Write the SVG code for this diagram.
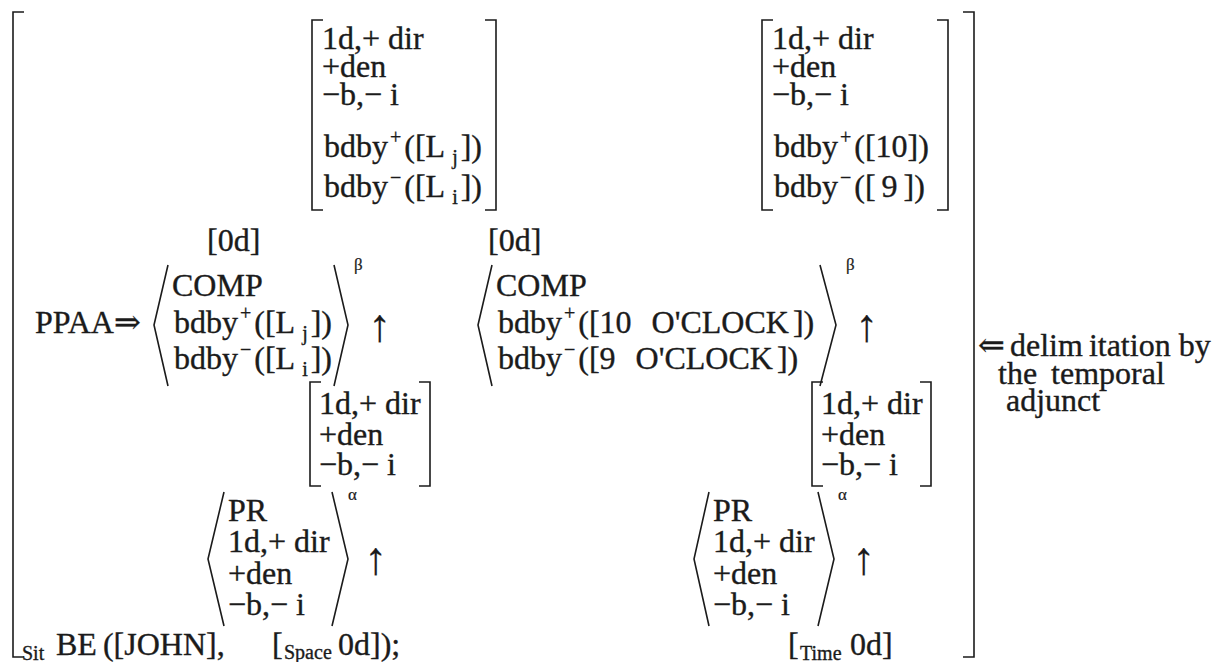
<svg xmlns="http://www.w3.org/2000/svg" width="1227" height="662" viewBox="0 0 1227 662" font-family="Liberation Serif, serif">
  <style>
    text { font-family: "Liberation Serif", "Times New Roman", "DejaVu Serif", serif; font-size: 32px; fill: #1b1b1b; stroke: #1b1b1b; stroke-width: 0.35; }
    .s { font-size: 20px; }
    .g { font-size: 17px; stroke-width: 0.2; }
    .ar { font-size: 46px; stroke-width: 0.2; }
    .br { fill: none; stroke: #1b1b1b; stroke-width: 1.6; }
  </style>
  <rect width="1227" height="662" fill="#fff"/>

  <!-- outer situation bracket -->
  <g id="situation">
    <path class="br" d="M24 12H13V657H24M963 12H974V657H963"/>
    <text class="s" x="22" y="660">Sit</text>
    <text x="56" y="655">BE<tspan dx="6">([JOHN],</tspan></text>
    <text x="272" y="655">[</text>
    <text class="s" x="284" y="659">Space</text>
    <text x="338" y="655">0d]);</text>
  </g>

  <!-- feature matrix on L_j / L_i -->
  <g id="space-bounds">
    <path class="br" d="M323 20H312V210H323M485 20H496V210H485"/>
    <text x="322" y="49">1d,+ dir</text>
    <text x="322" y="77">+den</text>
    <text x="322" y="105">−b,− i</text>
    <text x="324" y="157">bdby<tspan class="s" dx="2" dy="-13">+</tspan><tspan dx="3" dy="13">([L</tspan><tspan class="s" dx="7" dy="7">j</tspan><tspan dx="3" dy="-7">])</tspan></text>
    <text x="324" y="197">bdby<tspan class="s" dx="2" dy="-13">−</tspan><tspan dx="3" dy="13">([L</tspan><tspan class="s" dx="7" dy="7">i</tspan><tspan dx="3" dy="-7">])</tspan></text>
  </g>

  <!-- feature matrix on 10 / 9 -->
  <g id="time-bounds">
    <path class="br" d="M773 20H762V210H773M937 20H948V210H937"/>
    <text x="772" y="49">1d,+ dir</text>
    <text x="772" y="77">+den</text>
    <text x="772" y="105">−b,− i</text>
    <text x="774" y="157">bdby<tspan class="s" dx="2" dy="-13">+</tspan><tspan dx="3" dy="13">([10])</tspan></text>
    <text x="774" y="197">bdby<tspan class="s" dx="2" dy="-13">−</tspan><tspan dx="3" dy="13">([</tspan><tspan dx="6">9</tspan><tspan dx="6">])</tspan></text>
  </g>

  <!-- PPAA with spatial COMP -->
  <g id="ppaa-space">
    <text x="35" y="333">PPAA⇒</text>
    <text x="207" y="251">[0d]</text>
    <polyline class="br" points="168,265 154,325 168,386"/>
    <text x="172" y="296">COMP</text>
    <text x="174" y="333">bdby<tspan class="s" dx="2" dy="-13">+</tspan><tspan dx="3" dy="13">([L</tspan><tspan class="s" dx="7" dy="7">j</tspan><tspan dx="3" dy="-7">])</tspan></text>
    <text x="174" y="369">bdby<tspan class="s" dx="2" dy="-13">−</tspan><tspan dx="3" dy="13">([L</tspan><tspan class="s" dx="7" dy="7">i</tspan><tspan dx="3" dy="-7">])</tspan></text>
    <polyline class="br" points="334,265 348,325 334,386"/>
    <text class="g" x="354" y="270">β</text>
  </g>

  <!-- temporal COMP -->
  <g id="comp-time">
    <text x="488" y="251">[0d]</text>
    <polyline class="br" points="492,265 478,325 492,386"/>
    <text x="496" y="296">COMP</text>
    <text x="498" y="333">bdby<tspan class="s" dx="2" dy="-13">+</tspan><tspan dx="3" dy="13">([10</tspan><tspan dx="20">O'CLOCK</tspan><tspan dx="4">])</tspan></text>
    <text x="498" y="369">bdby<tspan class="s" dx="2" dy="-13">−</tspan><tspan dx="3" dy="13">([9</tspan><tspan dx="20">O'CLOCK</tspan><tspan dx="4">])</tspan></text>
    <polyline class="br" points="820,265 836,325 820,386"/>
    <text class="g" x="846" y="270">β</text>
  </g>

  <!-- middle matrices -->
  <g id="space-matrix">
    <path class="br" d="M321 382H310V486H321M419 382H430V486H419"/>
    <text x="319" y="414">1d,+ dir</text>
    <text x="319" y="445">+den</text>
    <text x="319" y="475">−b,− i</text>
  </g>
  <g id="time-matrix">
    <path class="br" d="M823 382H812V486H823M920 382H931V486H920"/>
    <text x="821" y="414">1d,+ dir</text>
    <text x="821" y="445">+den</text>
    <text x="821" y="475">−b,− i</text>
  </g>

  <!-- PR in space -->
  <g id="pr-space">
    <polyline class="br" points="224,492 208,559 224,626"/>
    <text x="228" y="521">PR</text>
    <text x="228" y="552">1d,+ dir</text>
    <text x="228" y="584">+den</text>
    <text x="228" y="615">−b,− i</text>
    <polyline class="br" points="332,492 348,559 332,626"/>
    <text class="g" x="348" y="500">α</text>
  </g>

  <!-- PR in time -->
  <g id="pr-time">
    <polyline class="br" points="709,492 694,559 709,626"/>
    <text x="713" y="521">PR</text>
    <text x="713" y="552">1d,+ dir</text>
    <text x="713" y="584">+den</text>
    <text x="713" y="615">−b,− i</text>
    <polyline class="br" points="818,492 834,559 818,626"/>
    <text class="g" x="838" y="500">α</text>
    <text x="788" y="655">[</text>
    <text class="s" x="800" y="660">Time</text>
    <text x="850" y="655">0d]</text>
  </g>

  <!-- side note -->
  <g id="note">
    <text x="978" y="356">⇐<tspan x="1010">delim</tspan><tspan dx="6">itation by</tspan></text>
    <text x="998" y="384">the<tspan dx="14">temporal</tspan></text>
    <text x="1006" y="411">adjunct</text>
  </g>

  <!-- linking arrows -->
  <g id="connectors">
    <text class="ar" x="368" y="341">↑</text>
    <text class="ar" x="855" y="341">↑</text>
    <text class="ar" x="364" y="574">↑</text>
    <text class="ar" x="852" y="574">↑</text>
  </g>
</svg>
